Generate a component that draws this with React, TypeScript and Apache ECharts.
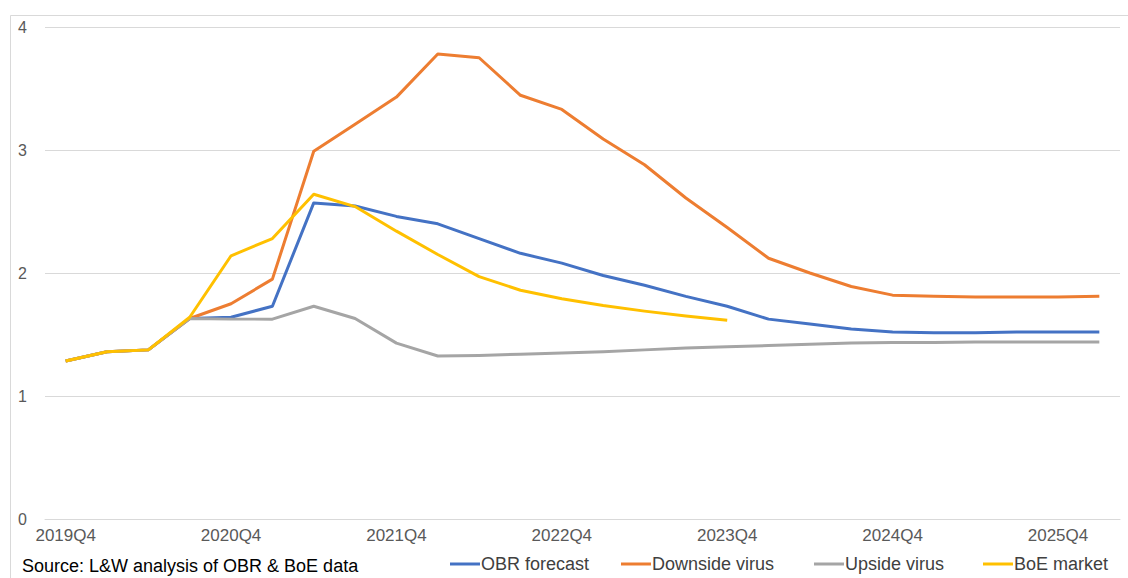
import React, { useEffect, useRef } from "react";
import * as echarts from "echarts";

// Quarterly periods on the category axis
const quarters = [
  "2019Q4", "2020Q1", "2020Q2", "2020Q3", "2020Q4", "2021Q1", "2021Q2", "2021Q3",
  "2021Q4", "2022Q1", "2022Q2", "2022Q3", "2022Q4", "2023Q1", "2023Q2", "2023Q3",
  "2023Q4", "2024Q1", "2024Q2", "2024Q3", "2024Q4", "2025Q1", "2025Q2", "2025Q3",
  "2025Q4", "2026Q1",
];

const obrForecast = [
  1.285, 1.36, 1.375, 1.63, 1.64, 1.73, 2.57, 2.545, 2.46, 2.4, 2.28, 2.16, 2.08,
  1.98, 1.9, 1.81, 1.73, 1.625, 1.585, 1.545, 1.52, 1.515, 1.515, 1.52, 1.52, 1.52,
];

const downsideVirus = [
  1.285, 1.36, 1.375, 1.63, 1.75, 1.95, 2.99, 3.21, 3.43, 3.78, 3.75, 3.445, 3.33,
  3.09, 2.88, 2.61, 2.37, 2.12, 2.0, 1.89, 1.82, 1.81, 1.805, 1.805, 1.805, 1.81,
];

const upsideVirus = [
  1.285, 1.36, 1.375, 1.63, 1.625, 1.625, 1.73, 1.63, 1.43, 1.325, 1.33, 1.34, 1.35,
  1.36, 1.375, 1.39, 1.4, 1.41, 1.42, 1.43, 1.435, 1.435, 1.44, 1.44, 1.44, 1.44,
];

const boeMarket = [
  1.285, 1.36, 1.375, 1.64, 2.14, 2.28, 2.64, 2.54, 2.34, 2.15, 1.97, 1.86, 1.79,
  1.735, 1.69, 1.65, 1.615, null, null, null, null, null, null, null, null, null,
];

const seriesNames = ["OBR forecast", "Downside virus", "Upside virus", "BoE market"];
const seriesColors = ["#4472C4", "#ED7D31", "#A5A5A5", "#FFC000"];
const seriesData = [obrForecast, downsideVirus, upsideVirus, boeMarket];

// Left edge of each legend entry's line key
const legendLefts = [450, 621, 814, 983];

const sourceNote = "Source: L&W analysis of OBR & BoE data";

const FONT = "'Liberation Sans', Arial, sans-serif";

export default function App() {
  const ref = useRef<HTMLDivElement>(null);

  useEffect(() => {
    if (!ref.current) return;
    const chart = echarts.init(ref.current, undefined, { renderer: "svg" });
    chart.setOption({
      animation: false,
      backgroundColor: "#ffffff",
      grid: { left: 45, right: 8, top: 27, bottom: 59, containLabel: false },
      xAxis: {
        type: "category",
        data: quarters,
        boundaryGap: true,
        axisLine: { show: true, lineStyle: { color: "#d9d9d9", width: 1 } },
        axisTick: { show: false },
        axisLabel: {
          interval: 3,
          color: "#595959",
          fontFamily: FONT,
          fontSize: 17,
          margin: 8,
        },
      },
      yAxis: {
        type: "value",
        min: 0,
        max: 4,
        interval: 1,
        axisLine: { show: false },
        axisTick: { show: false },
        axisLabel: {
          color: "#595959",
          fontFamily: FONT,
          fontSize: 16,
          margin: 18,
        },
        splitLine: { lineStyle: { color: "#d9d9d9", width: 1 } },
      },
      legend: seriesNames.map((name, i) => ({
        left: legendLefts[i],
        top: 555,
        icon: "rect",
        itemWidth: 30,
        itemHeight: 3,
        padding: 0,
        textStyle: {
          color: "#404040",
          fontFamily: FONT,
          fontSize: 18,
          padding: [0, 0, 0, -4],
        },
        data: [name],
      })),
      graphic: [
        {
          type: "rect",
          left: 8,
          top: 13,
          shape: { width: 1140, height: 600 },
          style: { fill: "none", stroke: "#d9d9d9", lineWidth: 1 },
          silent: true,
        },
        {
          type: "text",
          x: 22,
          y: 566,
          style: {
            text: sourceNote,
            fill: "#000000",
            font: `18px ${FONT}`,
            verticalAlign: "middle",
          },
        },
      ],
      series: seriesNames.map((name, i) => ({
        name,
        type: "line",
        data: seriesData[i],
        showSymbol: false,
        symbol: "none",
        connectNulls: false,
        lineStyle: { color: seriesColors[i], width: 3, join: "round" },
        itemStyle: { color: seriesColors[i] },
      })),
    });
    return () => chart.dispose();
  }, []);

  return (
    <div
      ref={ref}
      style={{ position: "fixed", left: 0, top: 0, width: 1128, height: 578 }}
    />
  );
}
